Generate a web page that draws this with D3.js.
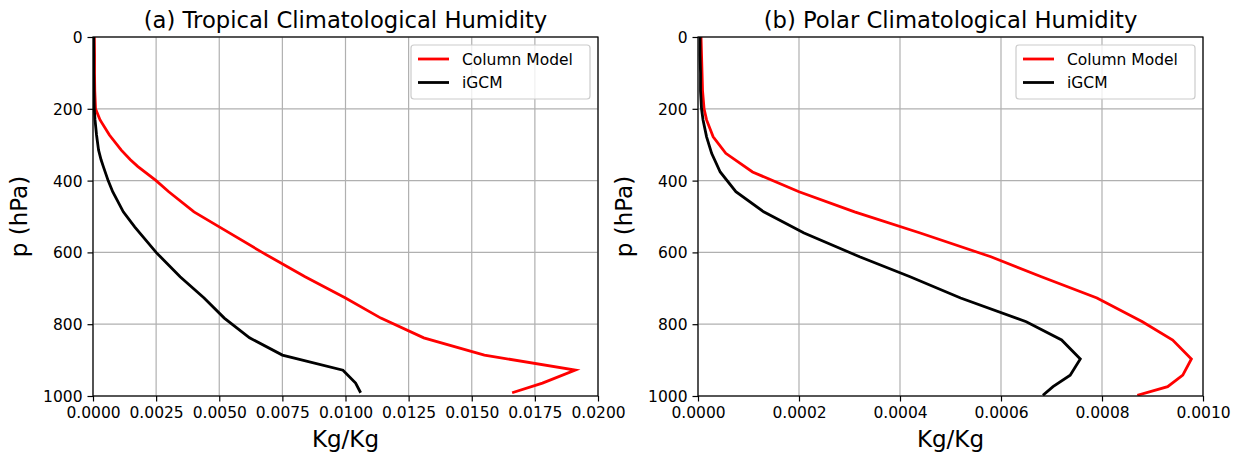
<!DOCTYPE html>
<html>
<head>
<meta charset="utf-8">
<script src="https://cdn.jsdelivr.net/npm/d3@7"></script>
<style>
  body { margin: 0; background: #fff; }
  svg { font-family: "DejaVu Sans", sans-serif; }
</style>
</head>
<body>
<script>
const W = 1245;
const H = 459;

// pressure levels (hPa)
const tropLevels = [0, 50, 100, 150, 200, 231, 273, 315, 342, 361, 400, 431, 487, 529, 600, 668, 727, 783, 838, 886, 928, 964, 991];
const tropColumn = [0.00005, 0.00006, 0.00006, 0.00007, 0.0001, 0.00028, 0.00065, 0.00112, 0.00148, 0.00178, 0.0025, 0.003, 0.004, 0.005, 0.0067, 0.0084, 0.01, 0.0114, 0.0131, 0.0155, 0.0191, 0.0178, 0.0166];
const tropIGCM = [0.00003, 0.00003, 0.00003, 0.00004, 0.00005, 0.00008, 0.00014, 0.00022, 0.00032, 0.00041, 0.0006, 0.00078, 0.0012, 0.00165, 0.0025, 0.00345, 0.0044, 0.0052, 0.0062, 0.0075, 0.0099, 0.0104, 0.0106];

const polarLevels = [0, 50, 100, 150, 200, 231, 278, 324, 376, 431, 487, 546, 612, 668, 727, 793, 844, 897, 942, 974, 998];
const polarColumn = [0.000006, 0.000007, 0.000008, 0.000009, 0.000012, 0.000017, 0.00003, 0.000055, 0.000108, 0.0002, 0.00031, 0.00044, 0.00058, 0.00068, 0.00079, 0.00088, 0.00094, 0.000977, 0.00096, 0.00093, 0.00087];
const polarIGCM = [0.000004, 0.000004, 0.000005, 0.000005, 0.000007, 0.00001, 0.000017, 0.000027, 0.000044, 0.000075, 0.00013, 0.00021, 0.00032, 0.00042, 0.00052, 0.00065, 0.00072, 0.000757, 0.000737, 0.000703, 0.000683];

const tropXTicks = [0, 0.0025, 0.005, 0.0075, 0.01, 0.0125, 0.015, 0.0175, 0.02];
const polarXTicks = [0, 0.0002, 0.0004, 0.0006, 0.0008, 0.001];
const pTicks = [0, 200, 400, 600, 800, 1000];
const seriesNames = ["Column Model", "iGCM"];
const seriesColors = ["#ff0000", "#000000"];

const svg = d3.select("body").append("svg")
  .attr("width", W)
  .attr("height", H);

function drawPanel(opts) {
  const left = opts.left, right = opts.left + 505;
  const top = 37, bottom = 396;
  const g = svg.append("g");

  const x = d3.scaleLinear().domain(opts.xDomain).range([left, right]);
  const y = d3.scaleLinear().domain([0, 1000]).range([top, bottom]);

  const clipId = "clip" + opts.id;
  svg.append("clipPath").attr("id", clipId)
    .append("rect")
    .attr("x", left).attr("y", top)
    .attr("width", right - left).attr("height", bottom - top);

  // grid
  g.append("g").selectAll("line").data(opts.xTicks).join("line")
    .attr("x1", d => x(d)).attr("x2", d => x(d))
    .attr("y1", top).attr("y2", bottom)
    .attr("stroke", "#b0b0b0").attr("stroke-width", 1.2);
  g.append("g").selectAll("line").data(pTicks).join("line")
    .attr("x1", left).attr("x2", right)
    .attr("y1", d => y(d)).attr("y2", d => y(d))
    .attr("stroke", "#b0b0b0").attr("stroke-width", 1.2);

  // lines
  const line = d3.line().x(d => x(d[0])).y(d => y(d[1]));
  opts.series.forEach((vals, i) => {
    g.append("path")
      .datum(vals.map((v, j) => [v, opts.levels[j]]))
      .attr("clip-path", `url(#${clipId})`)
      .attr("d", line)
      .attr("fill", "none")
      .attr("stroke", seriesColors[i])
      .attr("stroke-width", 2.8)
      .attr("stroke-linejoin", "miter");
  });

  // axes
  const xAxis = d3.axisBottom(x).tickValues(opts.xTicks)
    .tickFormat(d3.format(".4f")).tickSizeOuter(0).tickSize(5.5).tickPadding(5);
  const yAxis = d3.axisLeft(y).tickValues(pTicks)
    .tickFormat(d3.format("d")).tickSizeOuter(0).tickSize(5.5).tickPadding(5);

  const gx = g.append("g").attr("transform", `translate(0,${bottom})`).call(xAxis);
  const gy = g.append("g").attr("transform", `translate(${left},0)`).call(yAxis);
  [gx, gy].forEach(a => {
    a.select(".domain").remove();
    a.selectAll(".tick line").attr("stroke", "#000").attr("stroke-width", 1.2);
    a.selectAll(".tick text")
      .attr("fill", "#000")
      .style("font-size", "15.5px")
      .style("font-family", "DejaVu Sans");
  });
  gy.selectAll(".tick text").attr("dy", "0.36em");

  // frame
  g.append("rect")
    .attr("x", left).attr("y", top)
    .attr("width", right - left).attr("height", bottom - top)
    .attr("fill", "none").attr("stroke", "#000").attr("stroke-width", 1.2);

  // title and labels
  g.append("text")
    .attr("x", (left + right) / 2).attr("y", 27.5)
    .attr("text-anchor", "middle")
    .style("font-size", "22.7px")
    .text(opts.title);
  g.append("text")
    .attr("x", (left + right) / 2).attr("y", 447)
    .attr("text-anchor", "middle")
    .style("font-size", "23px")
    .text("Kg/Kg");
  g.append("text")
    .attr("transform", `translate(${left - 66},${(top + bottom) / 2}) rotate(-90)`)
    .attr("text-anchor", "middle")
    .style("font-size", "23px")
    .text("p (hPa)");

  // legend
  const lw = 179, lh = 54;
  const lx = right - 8 - lw, ly = top + 8;
  const leg = g.append("g");
  leg.append("rect")
    .attr("x", lx).attr("y", ly)
    .attr("width", lw).attr("height", lh)
    .attr("rx", 3)
    .attr("fill", "#fff").attr("fill-opacity", 0.8)
    .attr("stroke", "#cccccc").attr("stroke-width", 1.2);
  seriesNames.forEach((name, i) => {
    const yy = ly + 14 + i * 23.5;
    leg.append("line")
      .attr("x1", lx + 7).attr("x2", lx + 38)
      .attr("y1", yy).attr("y2", yy)
      .attr("stroke", seriesColors[i]).attr("stroke-width", 2.8);
    leg.append("text")
      .attr("x", lx + 51).attr("y", yy + 5.5)
      .style("font-size", "15.5px")
      .text(name);
  });
}

drawPanel({
  id: "a", left: 93,
  xDomain: [0, 0.02], xTicks: tropXTicks,
  levels: tropLevels, series: [tropColumn, tropIGCM],
  title: "(a) Tropical Climatological Humidity"
});
drawPanel({
  id: "b", left: 698,
  xDomain: [0, 0.001], xTicks: polarXTicks,
  levels: polarLevels, series: [polarColumn, polarIGCM],
  title: "(b) Polar Climatological Humidity"
});
</script>
</body>
</html>
